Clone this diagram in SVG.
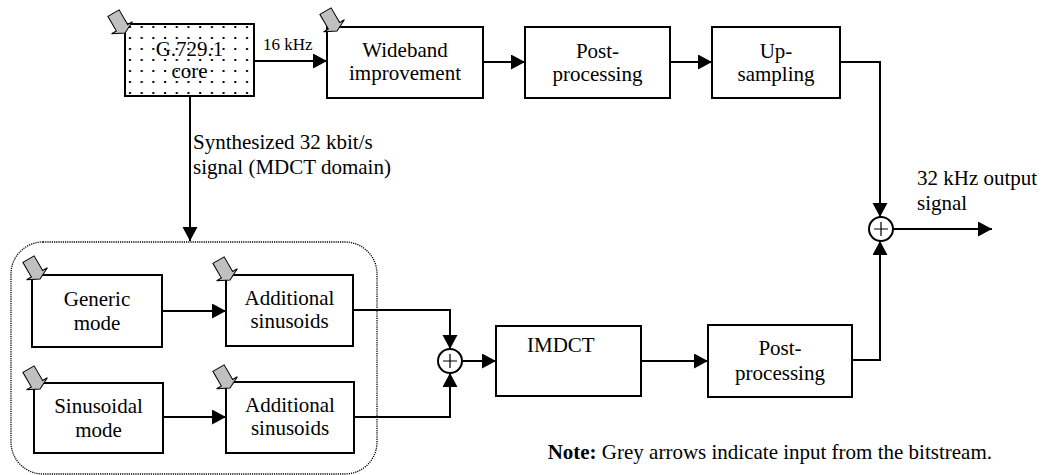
<svg xmlns="http://www.w3.org/2000/svg" xmlns:xlink="http://www.w3.org/1999/xlink" width="1043" height="475" viewBox="0 0 1043 475">
<style>
.box{fill:#fff;stroke:#000;stroke-width:2}
text{font-family:'Liberation Serif','Times New Roman',Times,serif;font-size:21px;fill:#000}
.t{text-anchor:middle}
.c{fill:none;stroke:#000;stroke-width:2}
.sum{fill:#fff;stroke:#000;stroke-width:2}
.plus{stroke:#000;stroke-width:1.2}
.grey{fill:#c0c0c0;stroke:#000;stroke-width:1}
</style>
<defs>
<marker id="ah" markerUnits="userSpaceOnUse" markerWidth="15" markerHeight="16" refX="14" refY="7.5" orient="auto">
<path d="M0,0 L14,7.5 L0,15 Z" fill="#000"/>
</marker>
<pattern id="dots" patternUnits="userSpaceOnUse" x="124" y="21" width="11.7" height="11">
<rect x="5" y="5" width="2" height="2" fill="#000"/>
</pattern>
<path id="ga" class="grey" d="M-6.5,-23 L6.5,-23 L6.5,-6 L12,-6 L0,0 L-12,-6 L-6.5,-6 Z"/>
</defs>
<rect width="1043" height="475" fill="#fff"/>
<rect x="11" y="242" width="366" height="232" rx="32" fill="none" stroke="#000" stroke-width="1.3" stroke-dasharray="1.2,1"/>
<g id="connectors">
<path class="c" d="M254,61 H327" marker-end="url(#ah)"/>
<path class="c" d="M483,62 H525" marker-end="url(#ah)"/>
<path class="c" d="M670,62 H712" marker-end="url(#ah)"/>
<path class="c" d="M840,62 H880 V217" marker-end="url(#ah)"/>
<path class="c" d="M852,360 H880 V241" marker-end="url(#ah)"/>
<path class="c" d="M893,229 H992" marker-end="url(#ah)"/>
<path class="c" d="M190,96 V241" marker-end="url(#ah)"/>
<path class="c" d="M162,311 H226" marker-end="url(#ah)"/>
<path class="c" d="M163,417 H226" marker-end="url(#ah)"/>
<path class="c" d="M353,310 H450 V349" marker-end="url(#ah)"/>
<path class="c" d="M354,417 H450 V373" marker-end="url(#ah)"/>
<path class="c" d="M462,361 H496" marker-end="url(#ah)"/>
<path class="c" d="M641,361 H708" marker-end="url(#ah)"/>
<text x="263" y="50" style="font-size:17px">16 kHz</text>
<text x="193" y="149">Synthesized 32 kbit/s</text>
<text x="193" y="174">signal (MDCT domain)</text>
<text x="917" y="185">32 kHz output</text>
<text x="917" y="210">signal</text>
</g>
<g id="core">
<rect x="125" y="24" width="129" height="72" fill="#fff" stroke="none"/>
<rect x="125" y="24" width="129" height="72" fill="url(#dots)" stroke="#000" stroke-width="2"/>
<text class="t" x="189.5" y="56">G.729.1</text>
<text class="t" x="189.5" y="78">core</text>
<use xlink:href="#ga" href="#ga" transform="translate(125,33) rotate(-30)"/>
</g>
<g id="wideband">
<rect class="box" x="327" y="27" width="156" height="71"/>
<text class="t" x="405" y="57">Wideband</text>
<text class="t" x="405" y="80">improvement</text>
<use xlink:href="#ga" href="#ga" transform="translate(337,31) rotate(-30)"/>
</g>
<g id="postproc1">
<rect class="box" x="525" y="27" width="145" height="71"/>
<text class="t" x="597.5" y="58">Post-</text>
<text class="t" x="597.5" y="81">processing</text>
</g>
<g id="upsampling">
<rect class="box" x="712" y="27" width="128" height="71"/>
<text class="t" x="776" y="58">Up-</text>
<text class="t" x="776" y="81">sampling</text>
</g>
<g id="sum1">
<circle class="sum" cx="881" cy="229" r="12"/>
<path class="plus" d="M874,229 H888 M881,222 V236"/>
</g>
<g id="generic">
<rect class="box" x="32" y="275" width="130" height="72"/>
<text class="t" x="97" y="306">Generic</text>
<text class="t" x="97" y="330">mode</text>
<use xlink:href="#ga" href="#ga" transform="translate(40,279) rotate(-30)"/>
</g>
<g id="addsin1">
<rect class="box" x="226" y="275" width="127" height="71"/>
<text class="t" x="289.5" y="305">Additional</text>
<text class="t" x="289.5" y="328">sinusoids</text>
<use xlink:href="#ga" href="#ga" transform="translate(230,280) rotate(-30)"/>
</g>
<g id="sinusoidal">
<rect class="box" x="34" y="383" width="129" height="70"/>
<text class="t" x="98.5" y="413">Sinusoidal</text>
<text class="t" x="98.5" y="437">mode</text>
<use xlink:href="#ga" href="#ga" transform="translate(40,389) rotate(-30)"/>
</g>
<g id="addsin2">
<rect class="box" x="226" y="382" width="128" height="71"/>
<text class="t" x="290" y="412">Additional</text>
<text class="t" x="290" y="435">sinusoids</text>
<use xlink:href="#ga" href="#ga" transform="translate(230,388) rotate(-30)"/>
</g>
<g id="sum2">
<circle class="sum" cx="450" cy="361" r="12"/>
<path class="plus" d="M443,361 H457 M450,354 V368"/>
</g>
<g id="imdct">
<rect class="box" x="496" y="326" width="145" height="70"/>
<text x="527" y="352">IMDCT</text>
</g>
<g id="postproc2">
<rect class="box" x="708" y="325" width="144" height="72"/>
<text class="t" x="780" y="355">Post-</text>
<text class="t" x="780" y="380">processing</text>
</g>
<g id="note">
<text x="992" y="459" text-anchor="end"><tspan font-weight="bold">Note:</tspan> Grey arrows indicate input from the bitstream.</text>
</g>
</svg>
